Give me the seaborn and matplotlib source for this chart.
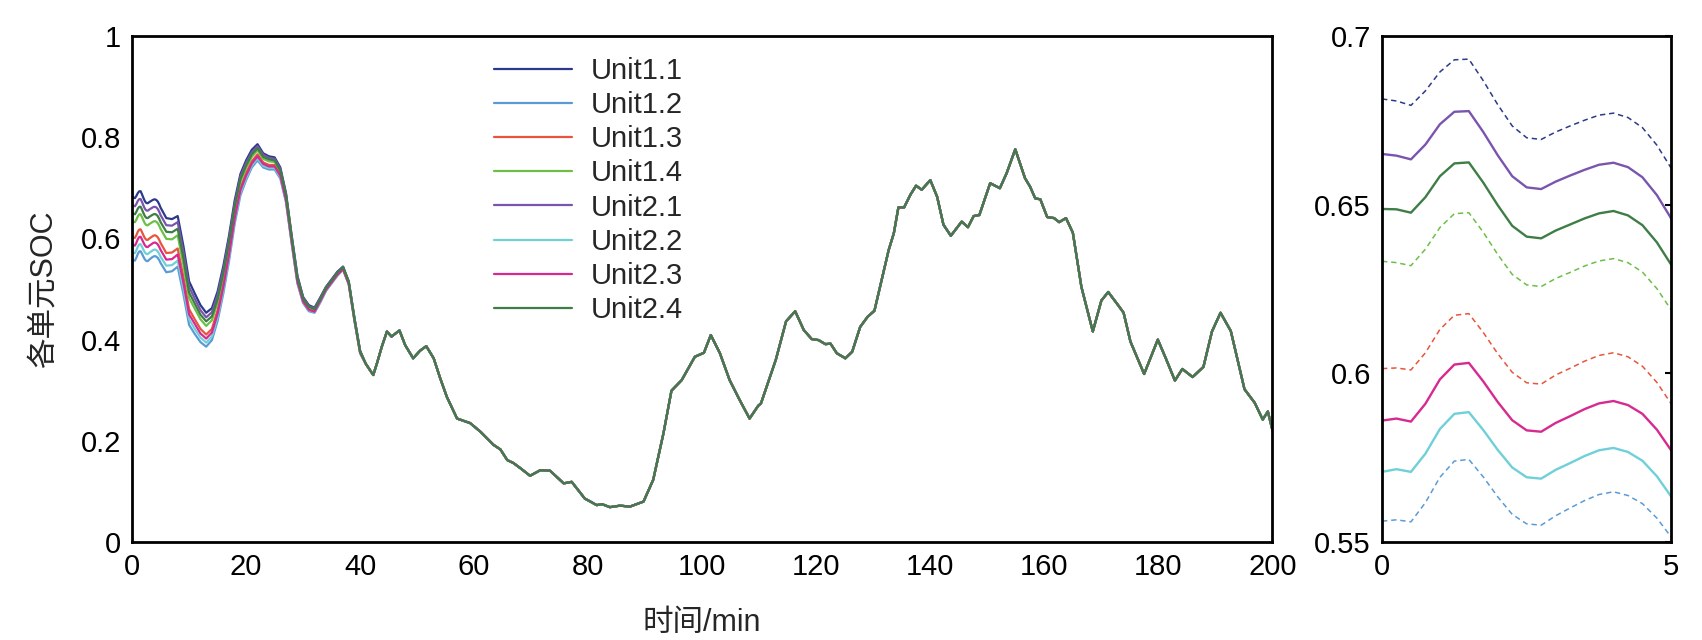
import numpy as np
import pandas as pd
import matplotlib
matplotlib.use('agg')
import matplotlib.pyplot as plt
from matplotlib.ticker import FuncFormatter
import seaborn as sns

# unit names and colours
units = ['Unit1.1', 'Unit1.2', 'Unit1.3', 'Unit1.4', 'Unit2.1', 'Unit2.2', 'Unit2.3', 'Unit2.4']
colors = ['#2b3a8a', '#5b9bd5', '#e8553d', '#6cbf47', '#7a55ad', '#6fd0d8', '#d62a90', '#3f7d46']

# first 40 min: units still differ (0-5 min at 0.25 min steps, then 1 min)
t_early = [0, 0.25, 0.5, 0.75, 1, 1.25, 1.5, 1.75, 2, 2.25, 2.5, 2.75, 3, 3.25, 3.5, 3.75, 4, 4.25, 4.5, 4.75, 5,
           6, 7, 8, 9, 10, 11, 12, 13, 14, 15, 16, 17, 18, 19, 20, 21, 22, 23, 24, 25, 26, 27, 28, 29, 30,
           31, 32, 33, 34, 35, 36, 37, 38, 39, 40]

soc_u11 = [0.6813, 0.6807, 0.6794, 0.6837, 0.6893, 0.6929, 0.6931, 0.6867, 0.6796, 0.6733, 0.6698, 0.6693, 0.6715,
           0.6733, 0.6750, 0.6765, 0.6771, 0.6758, 0.6728, 0.6676, 0.6607,
           0.640, 0.638, 0.644, 0.585, 0.515, 0.491, 0.468, 0.453, 0.462, 0.495, 0.545, 0.605, 0.675, 0.727, 0.754,
           0.775, 0.786, 0.768, 0.762, 0.760, 0.740, 0.689, 0.605, 0.526, 0.484, 0.468, 0.463, 0.483, 0.504, 0.519,
           0.534, 0.544, 0.515, 0.443, 0.378]
soc_u12 = [0.5562, 0.5566, 0.5560, 0.5617, 0.5692, 0.5740, 0.5745, 0.5693, 0.5634, 0.5582, 0.5554, 0.5550, 0.5578,
           0.5601, 0.5623, 0.5641, 0.5649, 0.5638, 0.5614, 0.5571, 0.5514,
           0.533, 0.535, 0.544, 0.490, 0.429, 0.411, 0.395, 0.386, 0.399, 0.437, 0.491, 0.555, 0.629, 0.685, 0.715,
           0.740, 0.754, 0.740, 0.736, 0.736, 0.718, 0.671, 0.589, 0.511, 0.472, 0.456, 0.453, 0.473, 0.496, 0.511,
           0.526, 0.538, 0.509, 0.437, 0.373]
soc_u13 = [0.6014, 0.6016, 0.6010, 0.6061, 0.6130, 0.6172, 0.6177, 0.6121, 0.6058, 0.6003, 0.5972, 0.5968, 0.5995,
           0.6015, 0.6036, 0.6053, 0.6061, 0.6049, 0.6021, 0.5973, 0.5909,
           0.571, 0.572, 0.580, 0.524, 0.460, 0.440, 0.421, 0.410, 0.421, 0.458, 0.511, 0.573, 0.646, 0.700, 0.729,
           0.752, 0.766, 0.750, 0.745, 0.745, 0.726, 0.677, 0.595, 0.516, 0.476, 0.460, 0.457, 0.477, 0.499, 0.514,
           0.529, 0.540, 0.511, 0.439, 0.374]
soc_u14 = [0.6332, 0.6328, 0.6319, 0.6368, 0.6432, 0.6473, 0.6476, 0.6418, 0.6352, 0.6293, 0.6262, 0.6257, 0.6281,
           0.6299, 0.6318, 0.6333, 0.6340, 0.6328, 0.6300, 0.6251, 0.6187,
           0.599, 0.598, 0.606, 0.548, 0.482, 0.461, 0.440, 0.427, 0.438, 0.473, 0.524, 0.586, 0.658, 0.711, 0.739,
           0.761, 0.774, 0.757, 0.752, 0.751, 0.732, 0.682, 0.599, 0.520, 0.480, 0.463, 0.459, 0.479, 0.501, 0.516,
           0.531, 0.542, 0.513, 0.441, 0.376]
soc_u21 = [0.6650, 0.6645, 0.6634, 0.6678, 0.6738, 0.6775, 0.6777, 0.6715, 0.6646, 0.6584, 0.6551, 0.6546, 0.6568,
           0.6586, 0.6603, 0.6618, 0.6624, 0.6611, 0.6581, 0.6528, 0.6458,
           0.626, 0.625, 0.632, 0.573, 0.504, 0.481, 0.458, 0.444, 0.454, 0.488, 0.538, 0.599, 0.669, 0.722, 0.749,
           0.770, 0.782, 0.765, 0.759, 0.757, 0.737, 0.687, 0.603, 0.524, 0.483, 0.466, 0.462, 0.482, 0.503, 0.518,
           0.533, 0.544, 0.514, 0.442, 0.377]
soc_u22 = [0.5708, 0.5716, 0.5708, 0.5762, 0.5835, 0.5880, 0.5885, 0.5832, 0.5773, 0.5721, 0.5692, 0.5688, 0.5714,
           0.5734, 0.5755, 0.5772, 0.5779, 0.5767, 0.5741, 0.5695, 0.5634,
           0.546, 0.547, 0.556, 0.501, 0.440, 0.421, 0.404, 0.394, 0.406, 0.444, 0.498, 0.561, 0.635, 0.690, 0.719,
           0.744, 0.758, 0.743, 0.739, 0.739, 0.721, 0.673, 0.591, 0.512, 0.473, 0.458, 0.454, 0.474, 0.497, 0.512,
           0.527, 0.538, 0.510, 0.438, 0.373]
soc_u23 = [0.5860, 0.5866, 0.5857, 0.5910, 0.5982, 0.6026, 0.6031, 0.5976, 0.5915, 0.5861, 0.5831, 0.5827, 0.5853,
           0.5873, 0.5894, 0.5911, 0.5918, 0.5906, 0.5880, 0.5833, 0.5771,
           0.558, 0.559, 0.568, 0.513, 0.450, 0.431, 0.412, 0.402, 0.414, 0.451, 0.504, 0.567, 0.640, 0.695, 0.724,
           0.748, 0.762, 0.747, 0.742, 0.742, 0.724, 0.675, 0.593, 0.514, 0.475, 0.459, 0.455, 0.476, 0.498, 0.513,
           0.528, 0.539, 0.510, 0.439, 0.374]
soc_u24 = [0.6487, 0.6486, 0.6476, 0.6522, 0.6584, 0.6622, 0.6625, 0.6565, 0.6498, 0.6437, 0.6405, 0.6400, 0.6423,
           0.6441, 0.6459, 0.6474, 0.6481, 0.6468, 0.6439, 0.6388, 0.6321,
           0.613, 0.612, 0.619, 0.561, 0.493, 0.471, 0.449, 0.436, 0.446, 0.480, 0.531, 0.592, 0.663, 0.717, 0.744,
           0.766, 0.778, 0.761, 0.756, 0.754, 0.734, 0.685, 0.601, 0.522, 0.481, 0.465, 0.460, 0.480, 0.502, 0.517,
           0.532, 0.543, 0.514, 0.441, 0.376]

# after ~40 min all units follow the same SOC
t_late = [41, 42.3, 43, 43.8, 44.7, 45.5, 46.9, 47.9, 49.3, 50.5, 51.6, 52.9, 54, 55.2, 57, 59.3, 61.1, 63.4, 64.6,
          65.8, 66.9, 68.1, 69.8, 71.6, 73.3, 75.7, 77.1, 79.4, 81.5, 82.4, 83.8, 85.6, 87.3, 89.7, 91.4, 93.2,
          94.6, 96.4, 98.7, 100.3, 101.5, 103.1, 104.8, 106.5, 108.3, 109.8, 110.3, 112.9, 114.7, 116.3, 117.8,
          119.2, 120.4, 121.6, 122.5, 123.6, 125.1, 126.3, 127.7, 129.0, 130.2, 131.2, 132.7, 133.6, 134.4, 135.4,
          136.5, 137.5, 138.5, 140.0, 141.2, 142.3, 143.6, 145.5, 146.6, 147.6, 148.6, 150.5, 152.2, 153.4, 154.9,
          156.6, 157.5, 158.4, 159.3, 160.5, 161.7, 162.6, 163.8, 165.0, 166.5, 168.5, 170.0, 171.2, 173.0, 173.9,
          175.1, 177.5, 179.9, 181.3, 182.9, 184.2, 186.0, 187.9, 189.4, 190.9, 192.7, 195.1, 196.9, 198.3, 199.2,
          200.0]
soc_late = [0.352, 0.330, 0.355, 0.386, 0.416, 0.406, 0.418, 0.389, 0.363, 0.378, 0.387, 0.363, 0.325, 0.287, 0.244,
            0.235, 0.218, 0.192, 0.183, 0.162, 0.156, 0.146, 0.131, 0.142, 0.141, 0.116, 0.119, 0.086, 0.073, 0.075,
            0.069, 0.072, 0.070, 0.080, 0.123, 0.215, 0.299, 0.320, 0.366, 0.374, 0.409, 0.373, 0.320, 0.282, 0.244,
            0.269, 0.274, 0.360, 0.436, 0.456, 0.419, 0.401, 0.399, 0.391, 0.392, 0.373, 0.363, 0.376, 0.425, 0.445,
            0.457, 0.505, 0.577, 0.610, 0.661, 0.661, 0.686, 0.704, 0.696, 0.715, 0.682, 0.627, 0.605, 0.633, 0.622,
            0.644, 0.646, 0.709, 0.699, 0.729, 0.776, 0.719, 0.702, 0.679, 0.677, 0.642, 0.640, 0.632, 0.640, 0.611,
            0.504, 0.416, 0.477, 0.494, 0.467, 0.453, 0.396, 0.332, 0.400, 0.363, 0.319, 0.342, 0.326, 0.346, 0.416,
            0.453, 0.417, 0.302, 0.275, 0.242, 0.258, 0.221]

early = dict(zip(units, [soc_u11, soc_u12, soc_u13, soc_u14, soc_u21, soc_u22, soc_u23, soc_u24]))

rows = []
for u in units:
    for t, v in zip(t_early + t_late, early[u] + soc_late):
        rows.append((u, t, v))
df = pd.DataFrame(rows, columns=['unit', 't', 'soc'])

sns.set_style('white')
plt.rcParams['font.family'] = ['Liberation Sans', 'Noto Sans CJK SC']
plt.rcParams['axes.unicode_minus'] = False

palette = dict(zip(units, colors))

fig = plt.figure(figsize=(17.02, 6.4), dpi=100)
ax = fig.add_axes([0.0776, 0.153, 0.670, 0.791])
ax2 = fig.add_axes([0.812, 0.153, 0.170, 0.791])

# main chart
sns.lineplot(data=df, x='t', y='soc', hue='unit', hue_order=units, palette=palette,
             estimator=None, errorbar=None, lw=1.6, ax=ax)
ax.set_xlim(0, 200)
ax.set_ylim(0, 1)
ax.set_xticks(range(0, 201, 20))
ax.set_yticks([0, 0.2, 0.4, 0.6, 0.8, 1])
ax.yaxis.set_major_formatter(FuncFormatter(lambda v, p: f'{v:g}'))
ax.set_xlabel('时间/min', fontsize=22, labelpad=19)
ax.set_ylabel('各单元SOC', fontsize=22, labelpad=16)

handles, labels = ax.get_legend_handles_labels()
ax.legend(handles, labels, loc='upper left', bbox_to_anchor=(0.3175, 0.958), frameon=False,
          fontsize=21, handlelength=2.67, handletextpad=0.63, labelspacing=0.21,
          borderaxespad=0, borderpad=0)

# zoomed inset 0-5 min
df_in = df[df['t'] <= 5]
for u in units:
    d = df_in[df_in['unit'] == u]
    dashed = u.startswith('Unit1')
    sns.lineplot(data=d, x='t', y='soc', color=palette[u], estimator=None, errorbar=None,
                 lw=1.1 if dashed else 1.7, linestyle=(0, (3.5, 2.5)) if dashed else '-', ax=ax2)
ax2.set_xlim(0, 5)
ax2.set_ylim(0.55, 0.7)
ax2.set_xticks([0, 5])
ax2.set_yticks([0.55, 0.6, 0.65, 0.7])
ax2.yaxis.set_major_formatter(FuncFormatter(lambda v, p: f'{v:g}'))
ax2.set_xlabel('')
ax2.set_ylabel('')

for a in (ax, ax2):
    for s in a.spines.values():
        s.set_visible(True)
        s.set_color('black')
        s.set_linewidth(2)
    a.tick_params(direction='in', length=7, width=1.5, labelsize=21, colors='black', pad=8)
ax2.tick_params(right=True, length=4)

fig.savefig('out.png', dpi=100, facecolor='white')
